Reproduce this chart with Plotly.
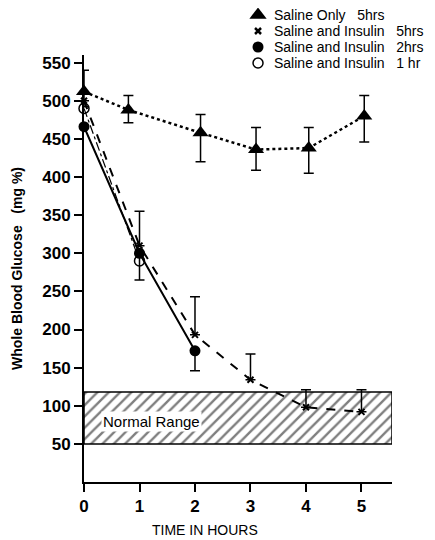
import plotly.graph_objects as go

# ---- data ----
hours_saline = [0, 0.8, 2.1, 3.1, 4.05, 5.05]
glucose_saline = [512, 488, 458, 436, 438, 480]
err_saline_plus = [28, 19, 24, 29, 27, 27]
err_saline_minus = [20, 17, 38, 27, 33, 34]

hours_ins5 = [0, 1, 2, 3, 4, 5]
glucose_ins5 = [500, 310, 193, 134, 98, 92]
err_ins5_plus = [0, 45, 50, 34, 23, 29]
err_ins5_minus = [0, 0, 0, 0, 0, 0]

hours_ins2 = [0, 1, 2]
glucose_ins2 = [466, 300, 172]
err_ins2_plus = [0, 0, 0]
err_ins2_minus = [0, 35, 26]

hours_ins1 = [0, 1]
glucose_ins1 = [490, 290]

normal_x = [0, 5.55, 5.55, 0, 0]
normal_y = [50, 50, 118, 118, 50]

legend_names = ["Saline Only   5hrs", "Saline and Insulin   5hrs",
                "Saline and Insulin   2hrs", "Saline and Insulin   1 hr"]
x_ticks = [0, 1, 2, 3, 4, 5]
y_ticks = [50, 100, 150, 200, 250, 300, 350, 400, 450, 500, 550]

FONT = "Liberation Sans"
fig = go.Figure()

# normal range hatched band
fig.add_trace(go.Scatter(
    x=normal_x, y=normal_y, mode="lines", fill="toself",
    line=dict(color="black", width=1.5),
    fillcolor="white",
    fillpattern=dict(shape="/", fgcolor="black", bgcolor="white", size=8, solidity=0.3),
    showlegend=False, hoverinfo="skip"))

eb = dict(color="black", thickness=1.5, width=5)

styles = [
    dict(line=dict(color="black", width=2.5, dash="dot"),
         marker=dict(symbol="triangle-up", size=14, color="black")),
    dict(line=dict(color="black", width=2, dash="dash"),
         marker=dict(symbol="x-thin", size=6, color="black", line=dict(width=2, color="black"))),
    dict(line=dict(color="black", width=2),
         marker=dict(symbol="circle", size=11, color="black")),
    dict(line=dict(color="black", width=1.2, dash="dashdot"),
         marker=dict(symbol="circle-open", size=10, color="black", line=dict(width=1.5))),
]

series = [
    (hours_saline, glucose_saline, err_saline_plus, err_saline_minus),
    (hours_ins5, glucose_ins5, err_ins5_plus, err_ins5_minus),
    (hours_ins2, glucose_ins2, err_ins2_plus, err_ins2_minus),
    (hours_ins1, glucose_ins1, None, None),
]
for (xs, ys, ep, em), st, name in zip(series, styles, legend_names):
    kw = {}
    if ep is not None:
        kw["error_y"] = dict(type="data", symmetric=False, array=ep, arrayminus=em, **eb)
    fig.add_trace(go.Scatter(x=xs, y=ys, mode="lines+markers", name=name,
                             line=st["line"], marker=st["marker"], showlegend=False,
                             cliponaxis=False, **kw))

# key (legend) in the upper right, drawn on its own small axis so its rows sit tight
key_rows = list(range(len(legend_names)))
key_markers = [
    dict(symbol="triangle-up", size=15, color="black"),
    dict(symbol="x-thin", size=6, color="black", line=dict(width=2.5, color="black")),
    dict(symbol="circle", size=11, color="black"),
    dict(symbol="circle-open", size=10, color="black", line=dict(width=1.5)),
]
for r, mk, name in zip(key_rows, key_markers, legend_names):
    fig.add_trace(go.Scatter(x=[0.565], y=[r], xaxis="x2", yaxis="y2", mode="markers",
                             marker=mk, name=name, showlegend=False, hoverinfo="skip",
                             cliponaxis=False))
    fig.add_annotation(xref="x2", yref="y2", x=0.612, y=r, text=name, showarrow=False,
                       xanchor="left", yanchor="middle", borderpad=0,
                       font=dict(family=FONT, size=14, color="black"))

fig.add_annotation(x=1.22, y=80, text="Normal Range", showarrow=False,
                   font=dict(family=FONT, size=15, color="black"),
                   bgcolor="white")

fig.add_annotation(xref="paper", yref="paper", x=0.393, y=-0.102, text="TIME IN HOURS",
                   showarrow=False, xanchor="center", yanchor="middle",
                   font=dict(family=FONT, size=14, color="black"))

# the page body adds an 8px margin, so the figure is sized to fit the window
fig.update_layout(
    width=427, height=532,
    margin=dict(l=76, r=43, t=4, b=58),
    paper_bgcolor="white", plot_bgcolor="rgba(0,0,0,0)",
    font=dict(family=FONT, color="black"),
    showlegend=False,
    xaxis=dict(range=[0, 5.55], tickvals=x_ticks, showgrid=False, zeroline=False,
               showline=True, linecolor="black", linewidth=2,
               ticks="outside", ticklen=8, tickwidth=2, tickcolor="black",
               tickfont=dict(size=17, family=FONT, weight="bold")),
    yaxis=dict(range=[0, 560], domain=[0, 0.9085], tickvals=y_ticks, showgrid=False,
               zeroline=False, showline=True, linecolor="black", linewidth=2,
               ticks="outside", ticklen=8, tickwidth=2, tickcolor="black",
               tickfont=dict(size=17, family=FONT, weight="bold"),
               title=dict(text="Whole Blood Glucose   (mg %)",
                          font=dict(size=14, family=FONT, weight="bold"), standoff=16)),
    xaxis2=dict(domain=[0, 1], range=[0, 1], anchor="y2", visible=False, fixedrange=True),
    yaxis2=dict(domain=[0.88, 1.0], range=[3.3375, -0.1875], anchor="x2",
                visible=False, fixedrange=True),
)

fig.write_html("out.html")
